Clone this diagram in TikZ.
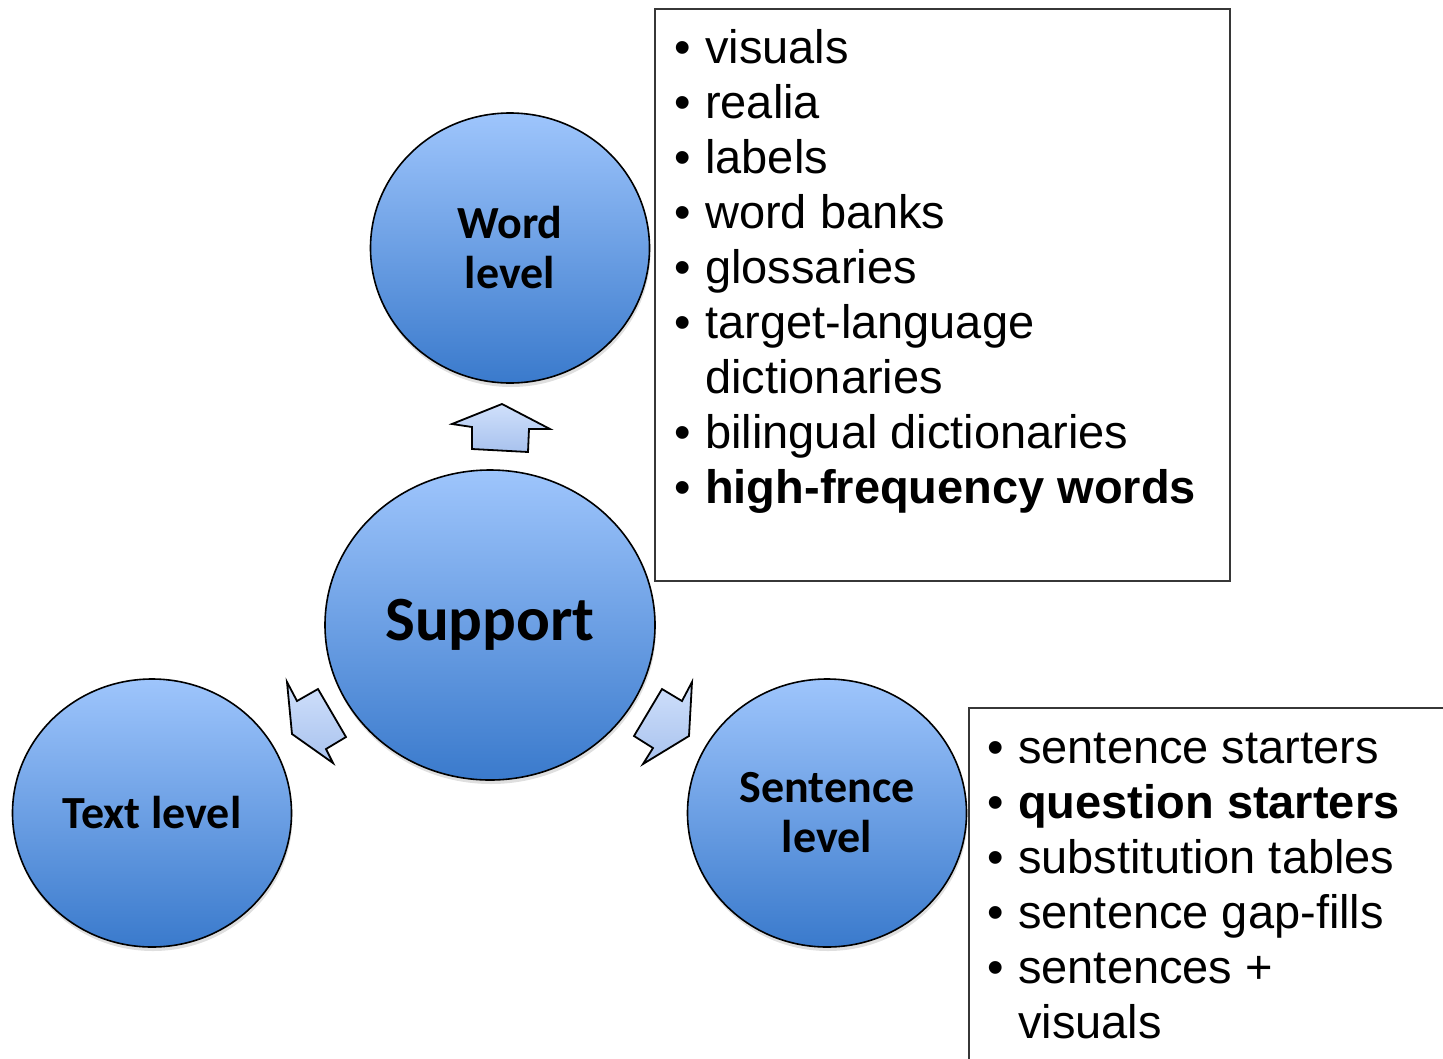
\documentclass[tikz,border=0pt]{standalone}
\usepackage{fontspec}
\setmainfont{Liberation Sans}
\newfontfamily\circfont{Carlito}
\usetikzlibrary{shapes.geometric,shadows}
\definecolor{ctop}{RGB}{158,197,252}
\definecolor{cbot}{RGB}{58,122,204}
\definecolor{atop}{RGB}{208,224,251}
\definecolor{abot}{RGB}{168,194,238}
\definecolor{boxc}{RGB}{55,55,55}
\begin{document}
\begin{tikzpicture}[x=1pt,y=-1pt,
  lvl/.style={ellipse, draw=black, line width=1.6pt, inner sep=0pt,
    top color=ctop, bottom color=cbot, align=center,
    font=\circfont\bfseries\fontsize{46}{50}\selectfont,
    drop shadow={opacity=0.25, shadow xshift=1pt, shadow yshift=-4pt}},
  blockarrow/.style={draw=black, line width=1.8pt, line join=miter,
    top color=atop, bottom color=abot},
  listbox/.style={draw=boxc, line width=1.8pt},
  bul/.style={anchor=base west, inner sep=0pt, font=\fontsize{47}{55}\selectfont},
  item/.style={anchor=base west, inner sep=0pt, font=\fontsize{47}{55}\selectfont}]
\useasboundingbox (0,0) rectangle (1443,1058);

% boxes
\draw[listbox] (655,9) rectangle (1230,581);
\draw[listbox] (969,1070) -- (969,708) -- (1453,708);

% circles
\node[lvl, minimum width=279pt, minimum height=270pt] (word) at (510,248) {Word\\level};
\node[lvl, minimum width=330pt, minimum height=310pt,
  font=\circfont\bfseries\fontsize{63}{70}\selectfont] (support) at (490,625) {Support};
\node[lvl, minimum width=279pt, minimum height=268pt] (text) at (152,813) {Text level};
\node[lvl, minimum width=279pt, minimum height=268pt] (sent) at (827,813) {Sentence\\level};

% block arrows
\draw[blockarrow] (502,404) -- (452,424) -- (472,427) -- (472,449) -- (528,452) -- (529,429) -- (550,429) -- cycle;
\draw[blockarrow] (287,682) -- (297,701) -- (318,689) -- (346,737) -- (326,749) -- (333,763) -- (292,734) -- cycle;
\draw[blockarrow] (692,682) -- (682,701) -- (662,689) -- (634,736) -- (653,748) -- (643,764) -- (689,736) -- cycle;

% word list
\foreach \y/\t/\n in {63/visuals/w1, 118/realia/w2, 173/labels/w3, 228/word banks/w4, 283/glossaries/w5, 338/target-language/w6, 448/bilingual dictionaries/w8}{
  \node[bul] (b\n) at (674,\y) {•};
  \node[item] (\n) at (705,\y) {\t};
}
\node[item] (w7) at (705,393) {dictionaries};
\node[bul] (bw9) at (674,503) {•};
\node[item, font=\bfseries\fontsize{47}{55}\selectfont] (w9) at (705,503) {high-frequency words};

% sentence list
\foreach \y/\t/\n in {763/sentence starters/s1, 873/substitution tables/s3, 928/sentence gap-fills/s4, 983/sentences +/s5}{
  \node[bul] (b\n) at (987,\y) {•};
  \node[item] (\n) at (1018,\y) {\t};
}
\node[bul] (bs2) at (987,818) {•};
\node[item, font=\bfseries\fontsize{47}{55}\selectfont] (s2) at (1018,818) {question starters};
\node[item] (s6) at (1018,1038) {visuals};
\end{tikzpicture}
\end{document}
